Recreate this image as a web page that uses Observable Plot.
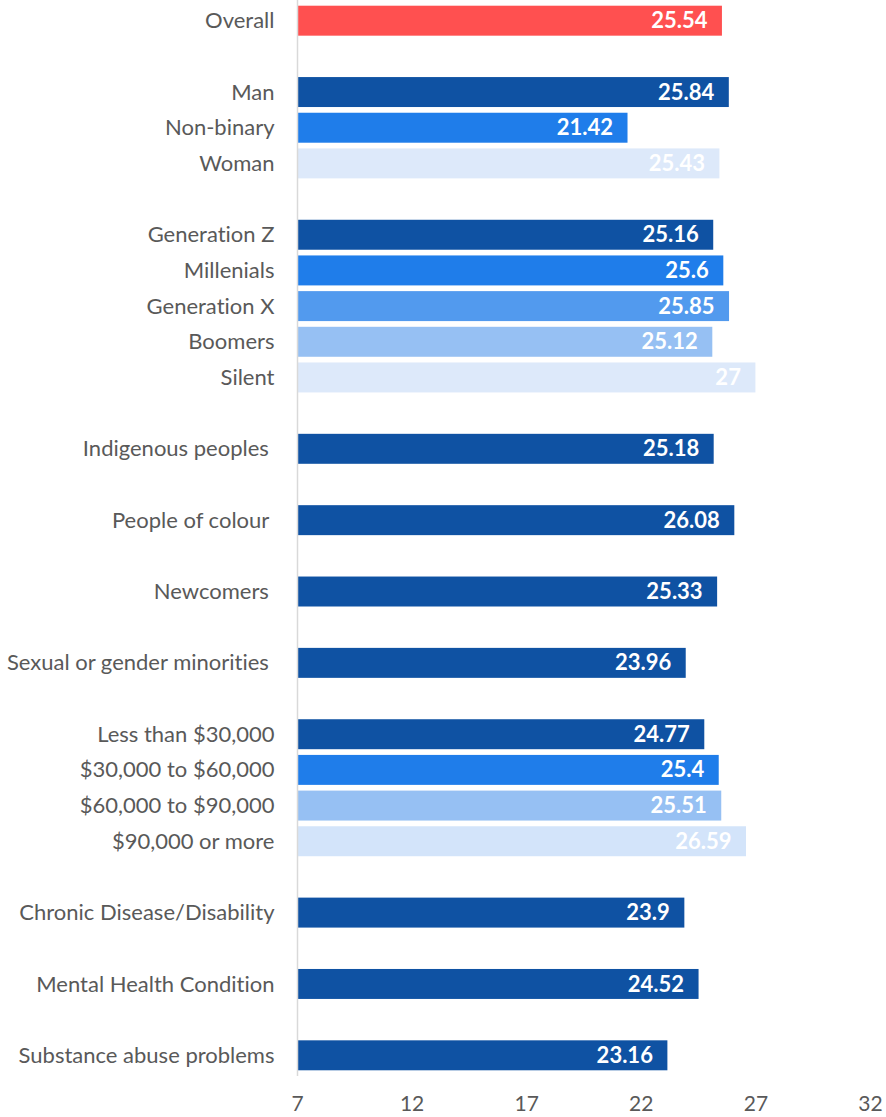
<!DOCTYPE html>
<html>
<head>
<meta charset="utf-8">
<script src="https://cdn.jsdelivr.net/npm/d3@7"></script>
<script src="https://cdn.jsdelivr.net/npm/@observablehq/plot@0.6"></script>
<style>
  html, body { margin: 0; padding: 0; background: #fff; }
  #chart svg { display: block; font-variant-ligatures: none; }
</style>
</head>
<body>
<div id="chart"></div>
<script>
const categories = ["Overall", "Man", "Non-binary", "Woman", "Generation Z", "Millenials", "Generation X", "Boomers", "Silent", "Indigenous peoples\u00a0", "People of colour\u00a0", "Newcomers\u00a0", "Sexual or gender minorities\u00a0", "Less than $30,000", "$30,000 to $60,000", "$60,000 to $90,000", "$90,000 or more", "Chronic Disease/Disability", "Mental Health Condition", "Substance abuse problems"];
const values = [25.54, 25.84, 21.42, 25.43, 25.16, 25.6, 25.85, 25.12, 27, 25.18, 26.08, 25.33, 23.96, 24.77, 25.4, 25.51, 26.59, 23.9, 24.52, 23.16];
const groups = [0, 1, 1, 1, 2, 2, 2, 2, 2, 3, 4, 5, 6, 7, 7, 7, 7, 8, 9, 10];
const shades = ["overall", "s1", "s2", "s5", "s1", "s2", "s3", "s4", "s5", "s1", "s1", "s1", "s1", "s1", "s2", "s4", "s6", "s1", "s1", "s1"];
const xTicks = [7, 12, 17, 22, 27, 32];

const palette = {overall: "#FF5050", s1: "#0F52A3", s2: "#1F7DEA", s3: "#529AEE", s4: "#96C0F3", s5: "#DDE9FA", s6: "#D3E4FA"};

// band domain with blank spacer rows between groups
const domain = [];
categories.forEach((c, i) => {
  if (i > 0 && groups[i] !== groups[i - 1]) domain.push("__gap" + i);
  domain.push(c);
});
const data = categories.map((c, i) => ({cat: c, value: values[i], shade: shades[i]}));

const FONT = "Lato, 'Open Sans', sans-serif";

const chart = Plot.plot({
  width: 886,
  height: 1117,
  marginLeft: 297,
  marginRight: 16,
  marginTop: 0,
  marginBottom: 41,
  style: {fontFamily: FONT, fontSize: "20px", color: "#595959", background: "#fff"},
  x: {domain: [7, 32], ticks: xTicks, label: null},
  y: {domain, padding: 0.16, round: false, label: null},
  color: {domain: Object.keys(palette), range: Object.values(palette)},
  marks: [
    Plot.barX(data, {x1: 7, x2: "value", y: "cat", fill: d => d.shade}),
    Plot.ruleX([7], {stroke: "#D9D9D9", strokeWidth: 1.5}),
    Plot.text(data, {x: "value", y: "cat", text: d => String(d.value), textAnchor: "end", dx: -15, fill: "white", fontWeight: "bold", fontSize: 22}),
    Plot.axisY({tickSize: 0, tickPadding: 23, tickFormat: d => d.startsWith("__gap") ? "" : d, fontSize: 22, fill: "#595959"}),
    Plot.axisX({ticks: xTicks, tickSize: 0, tickPadding: 20, fontSize: 21, fill: "#595959"})
  ]
});
document.getElementById("chart").appendChild(chart);
</script>
</body>
</html>
